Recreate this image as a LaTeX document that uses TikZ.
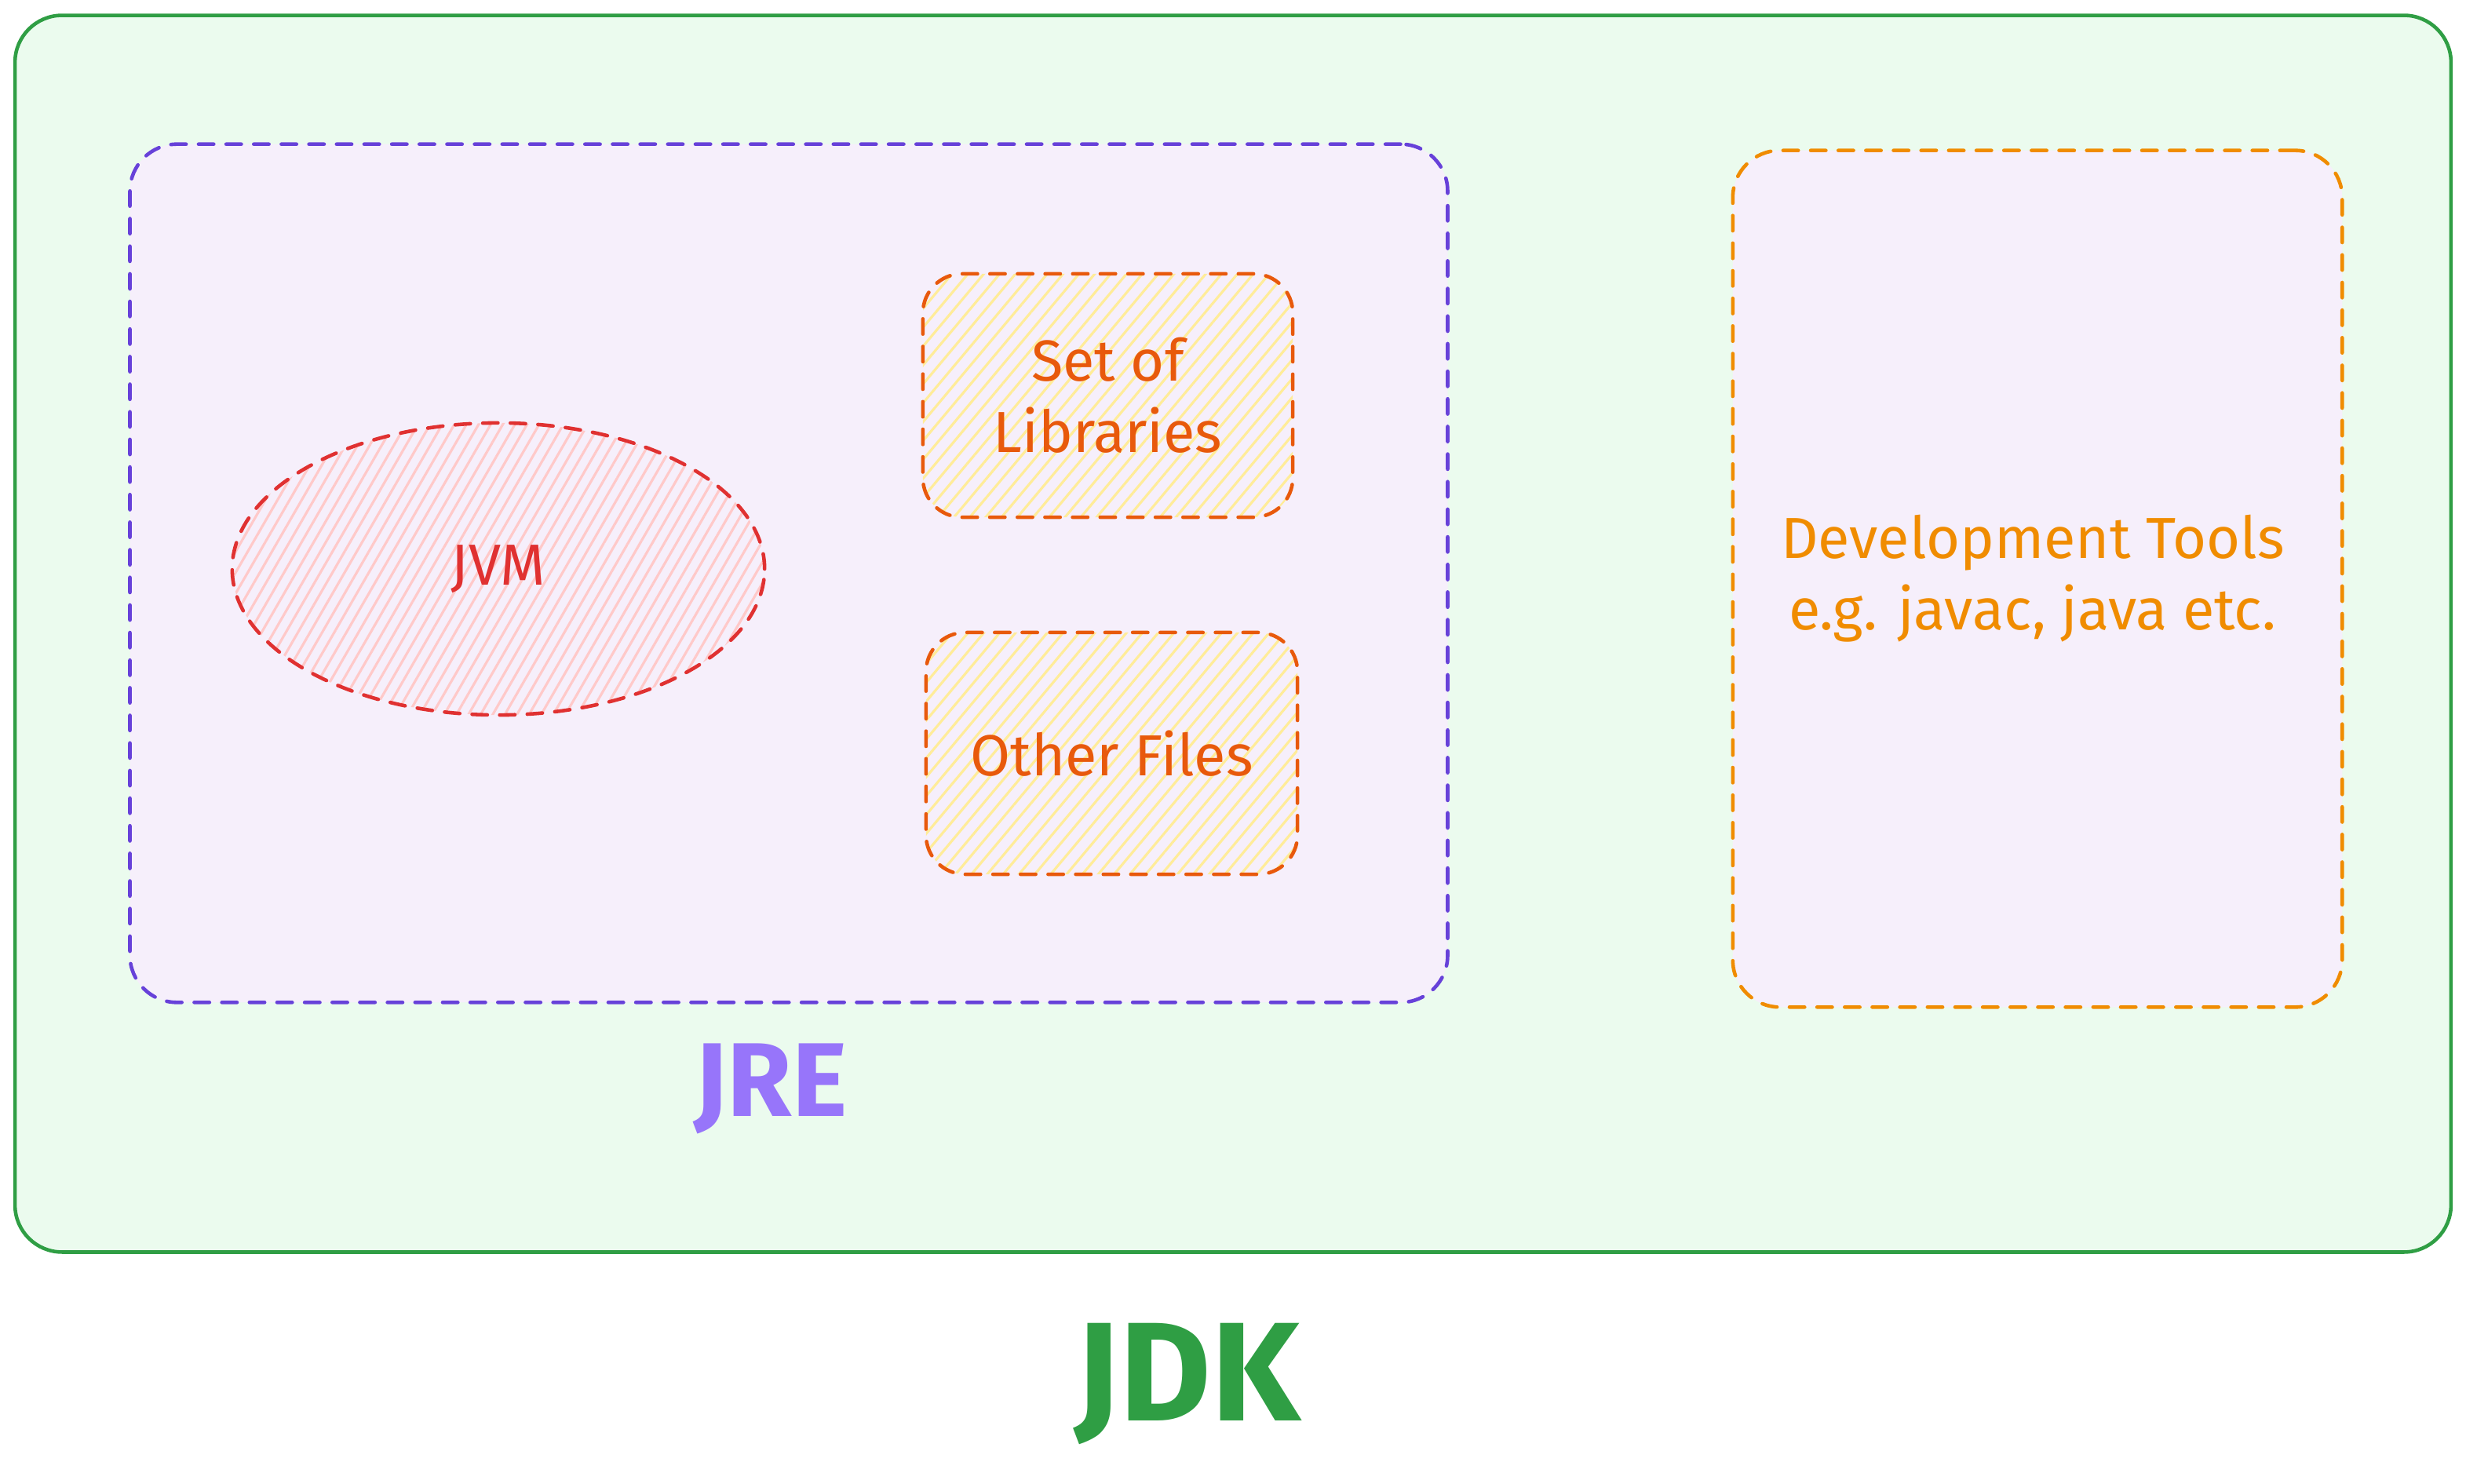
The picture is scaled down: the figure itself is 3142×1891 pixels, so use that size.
\documentclass[tikz,border=0pt]{standalone}
\usepackage{fontspec}
\setmainfont{Fira Sans}
\usetikzlibrary{shapes.geometric,patterns.meta}

\definecolor{jdkgreen}{HTML}{2F9E44}
\definecolor{jdkfill}{HTML}{EBFBEE}
\definecolor{jreviolet}{HTML}{6741D9}
\definecolor{jrelabel}{HTML}{9775FA}
\definecolor{lavender}{HTML}{F6EFFB}
\definecolor{jvmred}{HTML}{E03131}
\definecolor{jvmhatch}{HTML}{FFC9C9}
\definecolor{liborange}{HTML}{E8590C}
\definecolor{libhatch}{HTML}{FFEC99}
\definecolor{devorange}{HTML}{F08C00}

\begin{document}
\begin{tikzpicture}[x=0.01cm, y=-0.01cm,
        every node/.style={inner sep=0pt, outer sep=0pt},
        sketchdash/.style={line width=1.3pt, dash pattern=on 5.5pt off 4.5pt, line cap=round},
        midtext/.style={font=\fontsize{21}{26}\selectfont, align=center}]

    \useasboundingbox (0, 0) rectangle (3142, 1891);

    % JDK
    \node (jdk) [draw=jdkgreen, fill=jdkfill, line width=1.3pt, rounded corners=0.6cm,
        minimum width=31.02cm, minimum height=15.75cm] at (1571, 807.5) {};
    \node (jdklabel) [text=jdkgreen, font=\fontsize{51}{52}\selectfont\bfseries] at (1513, 1763) {JDK};

    % JRE
    \node (jre) [draw=jreviolet, fill=lavender, sketchdash, rounded corners=0.6cm,
        minimum width=16.78cm, minimum height=10.93cm] at (1005, 730.5) {};
    \node (jrelabel) [text=jrelabel, font=\fontsize{38}{40}\selectfont\bfseries] at (982, 1387) {JRE};

    \node (jvm) [ellipse, draw=jvmred, sketchdash, text=jvmred, midtext,
        pattern={Lines[angle=60, distance=3.8pt, line width=0.9pt]}, pattern color=jvmhatch,
        minimum width=6.78cm, minimum height=3.72cm] at (635, 725) {JVM};

    \node (libs) [draw=liborange, sketchdash, text=liborange, midtext, rounded corners=0.5cm,
        pattern={Lines[angle=50, distance=4.4pt, line width=0.9pt]}, pattern color=libhatch,
        minimum width=4.71cm, minimum height=3.10cm] at (1411.5, 504) {Set of\\Libraries};

    \node (other) [draw=liborange, sketchdash, text=liborange, midtext, rounded corners=0.5cm,
        pattern={Lines[angle=50, distance=4.4pt, line width=0.9pt]}, pattern color=libhatch,
        minimum width=4.73cm, minimum height=3.08cm] at (1416.5, 960) {Other Files};

    % tools
    \node (dev) [draw=devorange, fill=lavender, sketchdash, rounded corners=0.6cm,
        minimum width=7.76cm, minimum height=10.91cm] at (2596, 737.5) {};
    \node (devlabel) [text=devorange, midtext] at (2590, 737) {Development Tools\\e.g. javac, java etc.};
\end{tikzpicture}
\end{document}
